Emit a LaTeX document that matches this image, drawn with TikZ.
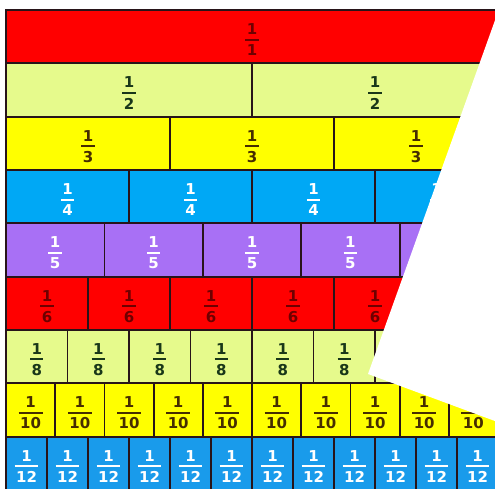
\documentclass[tikz,border=0pt]{standalone}
\usepackage{fontspec}
\setmainfont{DejaVu Sans}
\usepackage{tikz}

\definecolor{wallred}{RGB}{255,0,0}
\definecolor{walllime}{RGB}{230,250,140}
\definecolor{wallyellow}{RGB}{255,255,0}
\definecolor{wallblue}{RGB}{0,168,245}
\definecolor{wallpurple}{RGB}{168,112,245}
\definecolor{wallsky}{RGB}{25,155,235}
\definecolor{inkred}{RGB}{110,0,0}
\definecolor{inkgreen}{RGB}{25,55,25}
\definecolor{inkbrown}{RGB}{70,45,0}
\definecolor{edgeink}{RGB}{40,20,25}

% stacked fraction: numerator, bar, denominator
\newcommand\frc[2]{%
  \setbox0\hbox{\kern1.5pt#2\kern1.5pt}%
  \vbox{\kern6pt\hbox to\wd0{\hss#1\hss}\kern4pt\hrule height2pt\kern4pt\box0}}

\begin{document}
\begin{tikzpicture}[x=1pt, y=-1pt,
  piece/.style={draw=edgeink, line width=1.8pt, minimum height=53.33pt, inner sep=0pt, outer sep=0pt,
    font=\fontsize{15}{15}\selectfont\bfseries}]
  \useasboundingbox (0,0) rectangle (495,489);
  \clip (0,0) rectangle (495,489);

  \foreach \d/\r/\fc/\tc in {1/0/wallred/inkred, 2/1/walllime/inkgreen, 3/2/wallyellow/inkbrown,
      4/3/wallblue/white, 5/4/wallpurple/white, 6/5/wallred/inkred,
      8/6/walllime/inkgreen, 10/7/wallyellow/inkbrown, 12/8/wallsky/white}{
    \pgfmathsetmacro\w{492/\d}
    \foreach \k in {1,...,\d}{
      \node[piece, fill=\fc, text=\tc, minimum width=\w pt] (r\d-\k)
        at ({6+(\k-0.5)*\w}, {10+(\r+0.5)*53.33}) {\frc{1}{\d}};
    }
  }

  % torn paper corner
  \fill[white] (503,-2) -- (368,374) -- (503,424) -- cycle;
\end{tikzpicture}
\end{document}
